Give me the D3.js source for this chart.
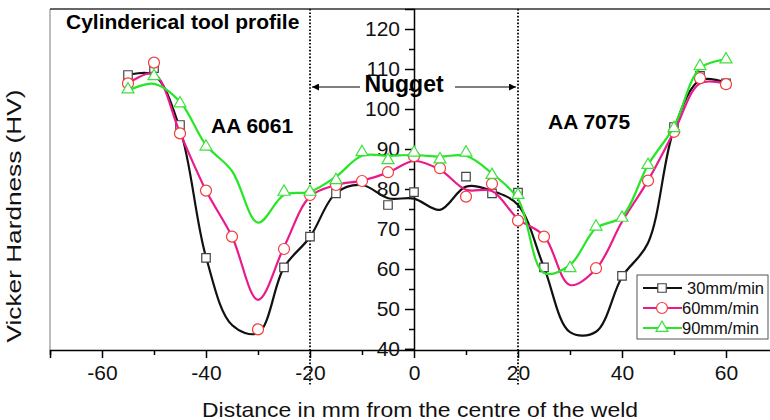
<!DOCTYPE html>
<html>
<head>
  <meta charset="utf-8">
  <script src="https://d3js.org/d3.v7.min.js"></script>
  <style>
    body { margin: 0; background: #fff; }
    svg { display: block; font-family: Arial, "Liberation Sans", sans-serif; }
  </style>
</head>
<body>
<script type="text/javascript">
  // positions along the weld (mm) where the curves are read
  var xVals = [-55, -50, -45, -40, -35, -30, -25, -20, -15, -10, -5, 0,
               5, 10, 15, 20, 25, 30, 35, 40, 45, 50, 55, 60];

  // smoothed curves
  var curve30 = [108.5, 108.5, 95, 63, 46, 44, 60.4, 68, 79, 81, 77.7, 77.6,
                 74.8, 80.6, 79.5, 76, 60.4, 44.2, 44.3, 58, 66.5, 95, 107.2, 106.6];
  var curve60 = [106.4, 108.8, 94, 79.6, 68.1, 52.3, 65.5, 78.1, 81, 82.1, 84.1, 87,
                 84.8, 79.8, 79.5, 72.5, 68.3, 56, 60, 71.8, 82.1, 94.3, 106.4, 106.3];
  var curve90 = [104.6, 106.3, 101.8, 91, 84.5, 71.6, 78.5, 79.3, 83.1, 88.3, 88.3, 88.5,
                 88.1, 88.3, 83.9, 77.5, 59, 61, 70.2, 73.1, 86, 95.6, 110.2, 112.4];

  // measured points (symbols)
  var mark30X = [-55, -50, -45, -40, -25, -20, -15, -5, 0, 10, 15, 20, 25, 40, 50, 55, 60];
  var mark30Y = [108.5, 110.2, 96, 62.8, 60.4, 68.1, 78.9, 76, 79.2, 83.1, 78.9, 79.1, 60.4, 58.3, 95.5, 108.3, 106.4];
  var mark60X = [-55, -50, -45, -40, -35, -30, -25, -20, -15, -10, -5, 0, 5, 10, 15, 20, 25, 35, 45, 50, 55, 60];
  var mark60Y = [106.4, 111.6, 93.9, 79.6, 68.1, 44.9, 65, 78.5, 81, 82, 84.2, 88.2, 85.2, 78.1, 81.3, 72.1, 68.1, 60.2, 82.1, 94.3, 107.7, 106.2];
  var mark90X = [-55, -50, -45, -40, -25, -20, -15, -10, -5, 0, 5, 10, 15, 20, 30, 35, 40, 45, 50, 55, 60];
  var mark90Y = [104.9, 108.2, 101.4, 90.6, 79.3, 79.3, 82.2, 89.2, 87.2, 89.1, 87.4, 89.1, 83.5, 78.5, 60.2, 70.6, 72.8, 86, 95.2, 110.7, 112.4];

  var seriesNames = ["30mm/min", "60mm/min", "90mm/min"];

  var xMajor = [-60, -40, -20, 0, 20, 40, 60];
  var xMinor = [-70, -50, -30, -10, 10, 30, 50, 70];
  var yMajor = [40, 50, 60, 70, 80, 90, 100, 110, 120];
  var yMinor = [45, 55, 65, 75, 85, 95, 105, 115];
  var nuggetEdges = [-20, 20];

  var width = 770, height = 420;

  var svg = d3.select("body").append("svg")
      .attr("width", width)
      .attr("height", height);

  var x = d3.scaleLinear().domain([-70, 70]).range([50, 778]);
  var y = d3.scaleLinear().domain([40, 125]).range([349, 9]);

  // frame: grey left edge, dark top edge
  svg.append("line")
      .attr("x1", x(-70)).attr("x2", x(-70))
      .attr("y1", y(125)).attr("y2", y(40) + 1)
      .attr("stroke", "#999").attr("stroke-width", 1.3);
  svg.append("line")
      .attr("x1", x(-70)).attr("x2", width)
      .attr("y1", y(125)).attr("y2", y(125))
      .attr("stroke", "#333").attr("stroke-width", 1.5);

  // nugget boundaries
  svg.selectAll(".edge")
      .data(nuggetEdges)
      .enter().append("line")
      .attr("class", "edge")
      .attr("x1", function (d) { return x(d); })
      .attr("x2", function (d) { return x(d); })
      .attr("y1", y(125))
      .attr("y2", 385)
      .attr("stroke", "#000")
      .attr("stroke-width", 1.8)
      .attr("stroke-dasharray", "1.6,1.8");

  // x axis
  var xAxis = svg.append("g")
      .attr("transform", "translate(0," + (y(40) + 1) + ")")
      .call(d3.axisBottom(x).tickValues(xMajor).tickSize(8).tickPadding(7)
        .tickFormat(function (d) { return String(d); }));
  xAxis.select(".domain").attr("stroke-width", 1.5);
  xAxis.selectAll(".tick line").attr("stroke-width", 1.5);
  xAxis.selectAll("text").style("font-size", "21px").attr("fill", "#111");

  var xAxisMinor = svg.append("g")
      .attr("transform", "translate(0," + (y(40) + 1) + ")")
      .call(d3.axisBottom(x).tickValues(xMinor).tickSize(5).tickFormat(""));
  xAxisMinor.select(".domain").remove();
  xAxisMinor.selectAll(".tick line").attr("stroke-width", 1.5);

  // y axis at the weld centre
  var yAxis = svg.append("g")
      .attr("transform", "translate(" + x(0) + ",0)")
      .call(d3.axisLeft(y).tickValues(yMajor).tickSize(9).tickPadding(5));
  yAxis.select(".domain").attr("stroke-width", 1.5);
  yAxis.selectAll(".tick line").attr("stroke-width", 1.5);
  yAxis.selectAll("text").style("font-size", "21px").attr("fill", "#111");

  var yAxisMinor = svg.append("g")
      .attr("transform", "translate(" + x(0) + ",0)")
      .call(d3.axisLeft(y).tickValues(yMinor).tickSize(5).tickFormat(""));
  yAxisMinor.select(".domain").remove();
  yAxisMinor.selectAll(".tick line").attr("stroke-width", 1.5);

  // axis titles
  svg.append("text")
      .attr("x", 420).attr("y", 417)
      .attr("text-anchor", "middle")
      .attr("textLength", 436).attr("lengthAdjust", "spacingAndGlyphs")
      .style("font-size", "21px").attr("fill", "#111")
      .text("Distance in mm from the centre of the weld");

  svg.append("text")
      .attr("transform", "translate(21,216) rotate(-90)")
      .attr("text-anchor", "middle")
      .attr("textLength", 253).attr("lengthAdjust", "spacingAndGlyphs")
      .style("font-size", "19.5px").attr("fill", "#111")
      .text("Vicker Hardness (HV)");

  // curves and symbols
  var series = [
    { name: seriesNames[0], curve: curve30, mx: mark30X, my: mark30Y,
      line: "#111", stroke: "#444", symbol: d3.symbolSquare, size: 72 },
    { name: seriesNames[1], curve: curve60, mx: mark60X, my: mark60Y,
      line: "#ea1a8c", stroke: "#f23c3c", symbol: d3.symbolCircle, size: 95 },
    { name: seriesNames[2], curve: curve90, mx: mark90X, my: mark90Y,
      line: "#26e626", stroke: "#3ee03e", symbol: d3.symbolTriangle, size: 62 }
  ];

  var line = d3.line()
      .x(function (d) { return x(d[0]); })
      .y(function (d) { return y(d[1]); })
      .curve(d3.curveCatmullRom.alpha(0.5));

  series.forEach(function (s) {
    var pts = xVals.map(function (v, i) { return [v, s.curve[i]]; });
    svg.append("path")
        .datum(pts)
        .attr("d", line)
        .attr("fill", "none")
        .attr("stroke", s.line)
        .attr("stroke-width", 2.2);

    var marks = s.mx.map(function (v, i) { return [v, s.my[i]]; });
    svg.selectAll(null)
        .data(marks)
        .enter().append("path")
        .attr("d", d3.symbol().type(s.symbol).size(s.size))
        .attr("transform", function (d) { return "translate(" + x(d[0]) + "," + y(d[1]) + ")"; })
        .attr("fill", "#fff")
        .attr("stroke", s.stroke)
        .attr("stroke-width", 1.2);
  });

  // annotations
  svg.append("text")
      .attr("x", 66).attr("y", 29)
      .style("font-size", "21px").style("font-weight", "bold")
      .text("Cylinderical tool profile");

  svg.append("text")
      .attr("x", 211).attr("y", 133)
      .style("font-size", "21px").style("font-weight", "bold")
      .text("AA 6061");

  svg.append("text")
      .attr("x", 548).attr("y", 129)
      .style("font-size", "21px").style("font-weight", "bold")
      .text("AA 7075");

  svg.append("defs").append("marker")
      .attr("id", "arrow")
      .attr("viewBox", "0 0 10 10")
      .attr("refX", 10).attr("refY", 5)
      .attr("markerWidth", 10).attr("markerHeight", 7)
      .attr("markerUnits", "userSpaceOnUse")
      .attr("orient", "auto")
      .append("path")
      .attr("d", "M0,0L10,5L0,10Z")
      .attr("fill", "#000");

  svg.append("line")
      .attr("x1", 360).attr("x2", x(-20) + 2)
      .attr("y1", 87).attr("y2", 87)
      .attr("stroke", "#000").attr("stroke-width", 1)
      .attr("marker-end", "url(#arrow)");
  svg.append("line")
      .attr("x1", 455).attr("x2", x(20) - 2)
      .attr("y1", 87).attr("y2", 87)
      .attr("stroke", "#000").attr("stroke-width", 1)
      .attr("marker-end", "url(#arrow)");

  svg.append("text")
      .attr("x", 404).attr("y", 92)
      .attr("text-anchor", "middle")
      .style("font-size", "23px").style("font-weight", "bold")
      .text("Nugget");

  // legend
  var legend = svg.append("g");
  legend.append("rect")
      .attr("x", 637).attr("y", 275)
      .attr("width", 131).attr("height", 64)
      .attr("fill", "#fff")
      .attr("stroke", "#555").attr("stroke-width", 1);

  series.forEach(function (s, i) {
    var ly = 288 + i * 20;
    legend.append("line")
        .attr("x1", 643).attr("x2", 682)
        .attr("y1", ly).attr("y2", ly)
        .attr("stroke", s.line).attr("stroke-width", 2.2);
    legend.append("path")
        .attr("d", d3.symbol().type(s.symbol).size(s.size))
        .attr("transform", "translate(662," + ly + ")")
        .attr("fill", "#fff")
        .attr("stroke", s.stroke)
        .attr("stroke-width", 1.2);
    legend.append("text")
        .attr("x", i === 0 ? 687 : 682).attr("y", ly + 6)
        .style("font-size", "16.5px").attr("fill", "#111")
        .text(s.name);
  });
</script>
</body>
</html>
